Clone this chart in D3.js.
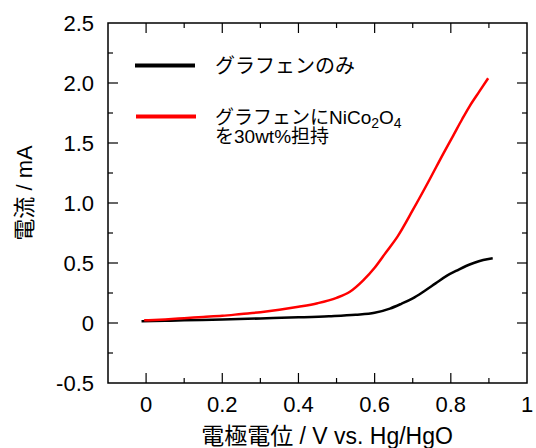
<!DOCTYPE html>
<html>
<head>
<meta charset="utf-8">
<script src="https://cdn.jsdelivr.net/npm/d3@7"></script>
<style>
  body { margin: 0; background: #fff; }
  text { font-family: "Liberation Sans", Arial, "Noto Sans CJK JP", sans-serif; fill: #000; }
</style>
</head>
<body>
<svg id="chart" width="536" height="448"></svg>
<script>
// 電流 vs 電極電位
const blackX = [-0.012, 0.05, 0.1, 0.2, 0.3, 0.4, 0.48, 0.55, 0.6, 0.64, 0.67, 0.7, 0.73, 0.76, 0.79, 0.815, 0.84, 0.86, 0.885, 0.91];
const blackY = [0.014, 0.018, 0.022, 0.029, 0.038, 0.047, 0.056, 0.068, 0.085, 0.12, 0.16, 0.205, 0.265, 0.33, 0.395, 0.436, 0.475, 0.50, 0.525, 0.54];

const redX = [-0.005, 0.05, 0.1, 0.15, 0.2, 0.25, 0.3, 0.35, 0.4, 0.45, 0.5, 0.535, 0.57, 0.6, 0.63, 0.66, 0.7, 0.745, 0.78, 0.806, 0.83, 0.85, 0.875, 0.898];
const redY = [0.022, 0.03, 0.04, 0.05, 0.06, 0.075, 0.09, 0.11, 0.135, 0.165, 0.21, 0.26, 0.355, 0.46, 0.59, 0.72, 0.94, 1.20, 1.41, 1.56, 1.70, 1.81, 1.93, 2.04];

const xTicks = [0, 0.2, 0.4, 0.6, 0.8, 1];
const xTickLabels = ["0", "0.2", "0.4", "0.6", "0.8", "1"];
const xMinor = [-0.1, 0.1, 0.3, 0.5, 0.7, 0.9];
const yTicks = [-0.5, 0, 0.5, 1, 1.5, 2, 2.5];
const yTickLabels = ["-0.5", "0", "0.5", "1.0", "1.5", "2.0", "2.5"];
const yMinor = [-0.25, 0.25, 0.75, 1.25, 1.75, 2.25];

const margin = { top: 23, right: 9, bottom: 65, left: 108 };
const width = 536 - margin.left - margin.right;
const height = 448 - margin.top - margin.bottom;

const svg = d3.select("#chart");
const g = svg.append("g").attr("transform", `translate(${margin.left},${margin.top})`);

const x = d3.scaleLinear().domain([-0.1, 1.0]).range([0, width]);
const y = d3.scaleLinear().domain([-0.5, 2.5]).range([height, 0]);

// ticks inward on all four sides
function ticks(vals, len) {
  vals.forEach(v => {
    g.append("line").attr("x1", x(v)).attr("x2", x(v)).attr("y1", height).attr("y2", height - len);
    g.append("line").attr("x1", x(v)).attr("x2", x(v)).attr("y1", 0).attr("y2", len);
  });
}
function yticks(vals, len) {
  vals.forEach(v => {
    g.append("line").attr("y1", y(v)).attr("y2", y(v)).attr("x1", 0).attr("x2", len);
    g.append("line").attr("y1", y(v)).attr("y2", y(v)).attr("x1", width).attr("x2", width - len);
  });
}
ticks(xTicks.filter(v => v < 1), 10);
ticks(xMinor.filter(v => v > -0.1), 5);
yticks(yTicks.filter(v => v > -0.5 && v < 2.5), 10);
yticks(yMinor, 5);
g.selectAll("line").attr("stroke", "#000").attr("stroke-width", 1.2);

g.append("rect")
  .attr("width", width).attr("height", height)
  .attr("fill", "none").attr("stroke", "#000").attr("stroke-width", 1.5);

g.selectAll(".xl").data(xTicks).enter().append("text")
  .attr("x", d => x(d)).attr("y", height + 29)
  .attr("text-anchor", "middle").style("font-size", "22px")
  .text((d, i) => xTickLabels[i]);

g.selectAll(".yl").data(yTicks).enter().append("text")
  .attr("x", -14).attr("y", d => y(d) + 8)
  .attr("text-anchor", "end").style("font-size", "22px")
  .text((d, i) => yTickLabels[i]);

const line = d3.line().x(d => x(d[0])).y(d => y(d[1])).curve(d3.curveMonotoneX);

g.append("path").datum(blackX.map((v, i) => [v, blackY[i]]))
  .attr("d", line).attr("fill", "none").attr("stroke", "#000").attr("stroke-width", 2.5);
g.append("path").datum(redX.map((v, i) => [v, redY[i]]))
  .attr("d", line).attr("fill", "none").attr("stroke", "#ff0000").attr("stroke-width", 2.5);

// legend
svg.append("line").attr("x1", 135).attr("x2", 195).attr("y1", 65.5).attr("y2", 65.5)
  .attr("stroke", "#000").attr("stroke-width", 4);
svg.append("text").attr("x", 215).attr("y", 73).style("font-size", "20px").text("グラフェンのみ");

svg.append("line").attr("x1", 136).attr("x2", 196).attr("y1", 116.5).attr("y2", 116.5)
  .attr("stroke", "#ff0000").attr("stroke-width", 4);
const t2 = svg.append("text").attr("x", 215).attr("y", 124).style("font-size", "19px");
t2.append("tspan").text("グラフェンにNiCo");
t2.append("tspan").attr("dy", 4).style("font-size", "14px").text("2");
t2.append("tspan").attr("dy", -4).text("O");
t2.append("tspan").attr("dy", 4).style("font-size", "14px").text("4");
svg.append("text").attr("x", 215).attr("y", 143).style("font-size", "19px").text("を30wt%担持");

// axis titles
svg.append("text").attr("x", margin.left + x(0.475)).attr("y", 444)
  .attr("text-anchor", "middle").style("font-size", "23px")
  .text("電極電位 / V vs. Hg/HgO");
svg.append("text").attr("transform", "translate(32,193) rotate(-90)")
  .attr("text-anchor", "middle").style("font-size", "22px")
  .text("電流 / mA");
</script>
</body>
</html>
